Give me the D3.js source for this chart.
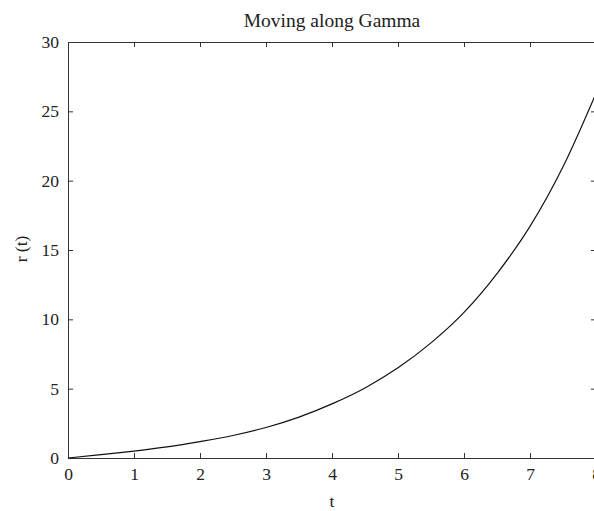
<!DOCTYPE html>
<html><head><meta charset="utf-8">
<script src="https://cdn.jsdelivr.net/npm/d3@7"></script>
<style>body{margin:0;background:#fff}svg{display:block}text{font-family:"Liberation Serif","DejaVu Serif",serif;fill:#222}</style>
</head><body><svg id="c" width="594" height="511"></svg>
<script>
const tValues = [0,0.5,1,1.5,2,2.5,3,3.5,4,4.5,5,5.5,6,6.5,7,7.5,8];
const rValues = [0,0.24,0.5,0.8,1.18,1.62,2.2,2.95,3.9,5.05,6.5,8.3,10.5,13.3,16.7,21.0,26.3];
const xTicks = [0,1,2,3,4,5,6,7,8];
const yTicks = [0,5,10,15,20,25,30];
const title = "Moving along Gamma";
const xLabel = "t";
const yLabel = "r (t)";

const svg = d3.select("#c");
const L = 68, R = 596, T = 42, B = 458;
const x = d3.scaleLinear().domain([0,8]).range([L,R]);
const y = d3.scaleLinear().domain([0,30]).range([B,T]);
const stroke = "#333";
const fs = 17.5;

svg.append("g").attr("transform",`translate(0,${B})`)
  .call(d3.axisBottom(x).tickValues(xTicks).tickSizeInner(-5).tickSizeOuter(0).tickPadding(10).tickFormat(d3.format("d")))
  .call(g=>{g.selectAll("text").attr("font-size",fs).style("font-family","Liberation Serif").attr("fill","#222");
    g.selectAll("line,path").attr("stroke",stroke);});
svg.append("g").attr("transform",`translate(0,${T})`)
  .call(d3.axisTop(x).tickValues(xTicks).tickSizeInner(-5).tickSizeOuter(0).tickFormat(""))
  .call(g=>g.selectAll("line,path").attr("stroke",stroke));
svg.append("g").attr("transform",`translate(${L},0)`)
  .call(d3.axisLeft(y).tickValues(yTicks).tickSizeInner(-5).tickSizeOuter(0).tickPadding(9).tickFormat(d3.format("d")))
  .call(g=>{g.selectAll("text").attr("font-size",fs).style("font-family","Liberation Serif").attr("fill","#222");
    g.selectAll("line,path").attr("stroke",stroke);});
svg.append("g").attr("transform",`translate(${R},0)`)
  .call(d3.axisRight(y).tickValues(yTicks).tickSizeInner(-5).tickSizeOuter(0).tickFormat(""))
  .call(g=>g.selectAll("line,path").attr("stroke",stroke));

const line = d3.line().x((d,i)=>x(tValues[i])).y(d=>y(d)).curve(d3.curveMonotoneX);
svg.append("path").datum(rValues).attr("d",line).attr("fill","none").attr("stroke","#111").attr("stroke-width",1.2);

svg.append("text").attr("x",(L+R)/2).attr("y",27).attr("text-anchor","middle").attr("font-size",19.5).text(title);
svg.append("text").attr("x",(L+R)/2).attr("y",507).attr("text-anchor","middle").attr("font-size",fs).text(xLabel);
svg.append("text").attr("transform","translate(27,249) rotate(-90)").attr("text-anchor","middle").attr("font-size",fs).text(yLabel);
</script></body></html>
